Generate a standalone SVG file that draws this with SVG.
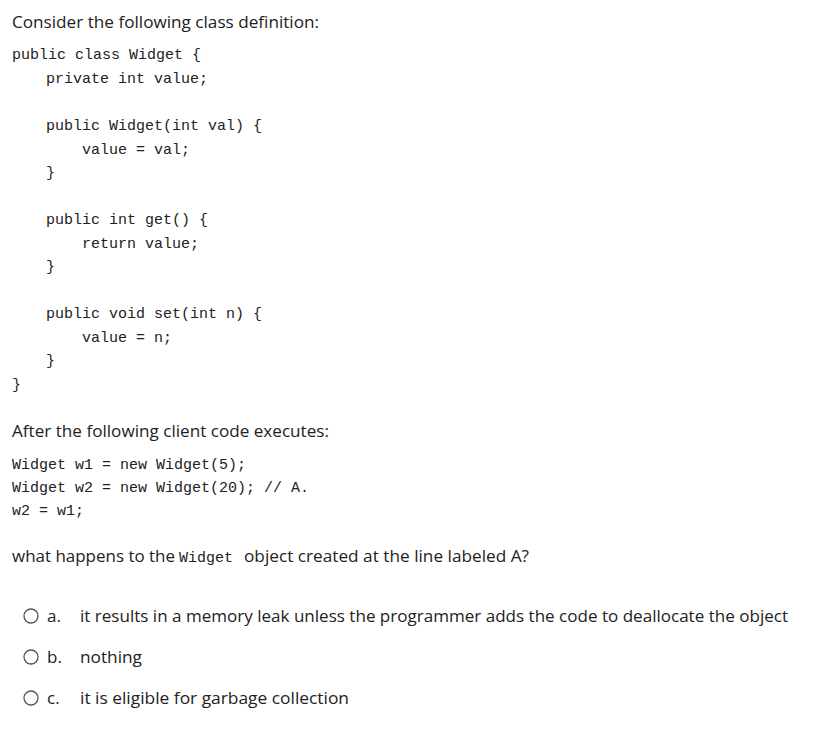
<svg xmlns="http://www.w3.org/2000/svg" width="836" height="740" viewBox="0 0 836 740">
<style>
.s{font-family:"Open Sans","Liberation Sans",sans-serif;font-size:17px;fill:#222}
.m{font-family:"Liberation Mono","DejaVu Sans Mono",monospace;font-size:15px;fill:#222}
.r{fill:#fff;stroke:#555;stroke-width:1.3}
</style>
<rect width="836" height="740" fill="#fff"/>
<text class="s" x="12" y="28" textLength="307" lengthAdjust="spacingAndGlyphs">Consider the following class definition:</text>
<g class="m" xml:space="preserve">
<text x="12" y="59">public class Widget {</text>
<text x="46" y="83">private int value;</text>
<text x="46" y="130">public Widget(int val) {</text>
<text x="82" y="154">value = val;</text>
<text x="46" y="177">}</text>
<text x="46" y="224">public int get() {</text>
<text x="82" y="248">return value;</text>
<text x="46" y="271">}</text>
<text x="46" y="318">public void set(int n) {</text>
<text x="82" y="342">value = n;</text>
<text x="46" y="365">}</text>
<text x="12" y="389">}</text>
<text x="12" y="469">Widget w1 = new Widget(5);</text>
<text x="12" y="492">Widget w2 = new Widget(20);  // A.</text>
<text x="12" y="515">w2 = w1;</text>
</g>
<text class="s" x="12" y="437" textLength="317" lengthAdjust="spacingAndGlyphs">After the following client code executes:</text>
<text class="s" x="12" y="562" textLength="163" lengthAdjust="spacingAndGlyphs">what happens to the</text>
<text class="m" x="179" y="562" font-size="16">Widget</text>
<text class="s" x="244" y="562" textLength="285" lengthAdjust="spacingAndGlyphs">object created at the line labeled A?</text>
<circle class="r" cx="31" cy="616" r="7"/>
<circle class="r" cx="31" cy="657" r="7"/>
<circle class="r" cx="31" cy="698" r="7"/>
<text class="s" x="47" y="622">a.</text>
<text class="s" x="47" y="663">b.</text>
<text class="s" x="47" y="704">c.</text>
<text class="s" x="80" y="622" textLength="708" lengthAdjust="spacingAndGlyphs">it results in a memory leak unless the programmer adds the code to deallocate the object</text>
<text class="s" x="80" y="663" textLength="62" lengthAdjust="spacingAndGlyphs">nothing</text>
<text class="s" x="80" y="704" textLength="269" lengthAdjust="spacingAndGlyphs">it is eligible for garbage collection</text>
</svg>
